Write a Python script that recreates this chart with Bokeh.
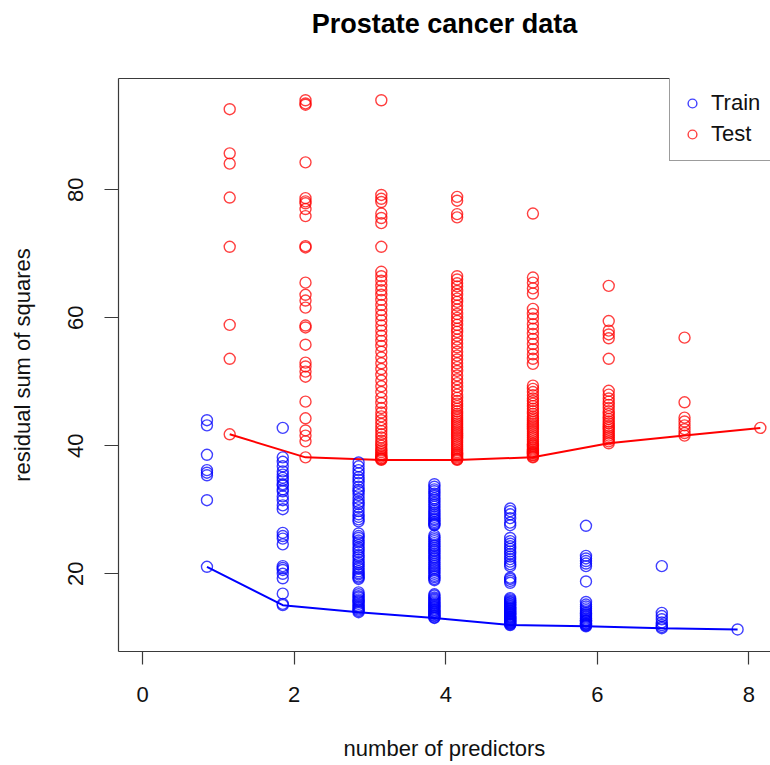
from bokeh.plotting import figure
from bokeh.models import Range1d, FixedTicker, Legend, LegendItem, LinearAxis
from bokeh.embed import file_html
from bokeh.resources import INLINE

# ---------------- data ----------------
subset_sizes = [1, 2, 3, 4, 5, 6, 7, 8]

train_1 = [44.0, 43.2, 38.6, 36.2, 35.8, 35.4, 31.5, 21.1]
train_2 = [42.8, 38.2, 37.5, 36.8, 36.0, 35.5, 35.0, 34.6, 34.0, 33.8, 33.2, 32.9, 32.1, 31.5,
           30.7, 30.1, 26.4, 25.9, 25.5, 24.6, 21.2, 20.9, 20.6, 20.0, 19.3, 16.9, 15.3, 15.1]
train_3 = [37.4, 36.8, 36.2, 35.7, 35.1, 34.7, 34.2, 33.6, 33.1, 32.8, 32.3, 31.7, 31.2, 30.9,
           30.4, 29.8, 29.3, 28.9, 28.5, 28.2,
           26.3, 25.9, 25.6, 25.2, 24.9, 24.5, 24.1, 23.8, 23.4, 22.9, 22.6, 22.2, 21.8, 21.5,
           21.1, 20.8, 20.4, 20.1, 19.9, 19.6, 19.4, 19.2,
           17.1, 16.8, 16.5, 16.3, 16.0, 15.8, 15.6, 15.3, 15.0, 14.8, 14.6, 14.4, 14.2, 14.0]
train_4 = [34.0, 33.6, 33.2, 32.9, 32.5, 32.2, 31.8, 31.5, 31.1, 30.8, 30.5, 30.1, 29.8, 29.5,
           29.2, 28.9, 28.6, 28.4, 28.1, 27.9, 27.7, 27.6,
           26.0, 25.7, 25.4, 25.1, 24.8, 24.5, 24.3, 24.0, 23.7, 23.5, 23.2, 22.9, 22.6, 22.4,
           22.1, 21.8, 21.5, 21.2, 20.9, 20.6, 20.3, 20.0, 19.7, 19.5, 19.2, 19.0,
           16.8, 16.6, 16.3, 16.1, 15.9, 15.7, 15.5, 15.3, 15.1, 14.9, 14.8, 14.6, 14.4, 14.3,
           14.1, 14.0, 13.8, 13.7, 13.5, 13.4, 13.2, 13.1]
train_5 = [30.2, 29.8, 29.3, 28.7, 28.0, 27.6,
           25.6, 25.1, 24.7, 24.3, 23.9, 23.5, 23.1, 22.7, 22.3, 21.9, 21.5, 21.2,
           19.4, 19.2, 18.9, 18.6,
           16.2, 16.0, 15.8, 15.6, 15.5, 15.3, 15.2, 15.0, 14.9, 14.7, 14.6, 14.5, 14.3, 14.2,
           14.1, 13.9, 13.8, 13.7, 13.6, 13.4, 13.3, 13.2, 13.1, 13.0, 12.9, 12.8, 12.7, 12.6,
           12.5, 12.4, 12.3, 12.2, 12.1, 12.0]
train_6 = [27.5, 22.8, 22.4, 22.0, 21.6, 21.2, 18.8,
           15.6, 15.2, 14.9, 14.6, 14.3, 14.0, 13.8, 13.6, 13.4, 13.2, 13.0, 12.8, 12.7, 12.6,
           12.5, 12.3, 12.2, 12.1, 12.0, 11.9, 11.8]
train_7 = [21.2, 13.9, 13.4, 12.9, 12.4, 12.0, 11.7, 11.5]
train_8 = [11.3]

test_1 = [92.6, 85.7, 84.1, 78.8, 71.1, 58.9, 53.6, 41.8]
test_2 = [94.0, 93.5, 93.3, 84.3, 78.7, 78.2, 77.9, 77.0, 75.9, 71.2, 71.0, 65.5, 63.6, 62.7,
          61.6, 58.8, 58.5, 55.8, 53.0, 52.4, 51.6, 50.8, 46.9, 44.3, 42.4, 41.6, 40.7, 38.2]
test_3 = [94.0, 79.2, 78.6, 78.1, 76.3, 75.6, 74.8, 71.1,
          67.2, 66.5, 65.8, 65.0, 64.3, 63.6, 62.8, 62.0, 61.2, 60.4, 59.6, 58.8, 58.0, 57.2,
          56.4, 55.6, 54.7, 53.8, 52.9, 52.0, 51.1, 50.2, 49.3, 48.4, 47.5, 46.7, 45.9, 45.2,
          44.6, 44.0, 43.4, 42.8, 42.3, 41.8, 41.3, 40.8, 40.4, 40.0, 39.6, 39.3, 39.0, 38.7,
          38.5, 38.3, 38.1, 38.0, 37.9, 37.8]
test_4 = [78.9, 78.3, 76.2, 75.7,
          66.5, 66.0, 65.4, 64.9, 64.2, 63.6, 63.0, 62.5, 61.9, 61.3, 60.6, 60.0, 59.5, 58.9,
          58.3, 57.8, 57.2, 56.6, 56.0, 55.4, 54.7, 54.1, 53.5, 52.9, 52.3, 51.7, 51.0, 50.4,
          49.8, 49.2, 48.6, 48.0, 47.5, 47.0, 46.6, 46.2, 45.8, 45.4, 45.0, 44.7, 44.4, 44.1,
          43.8, 43.5, 43.2, 42.9, 42.6, 42.3, 42.0, 41.7, 41.4, 41.1, 40.8, 40.5, 40.2, 39.9,
          39.6, 39.3, 39.0, 38.8, 38.6, 38.4, 38.2, 38.0, 37.9, 37.8]
test_5 = [76.3,
          66.3, 65.5, 64.6, 63.8,
          61.4, 60.6, 59.9, 59.0, 58.3, 57.5, 56.7, 55.9, 55.1, 54.3, 53.6, 52.8,
          49.4, 48.9, 48.4, 47.9, 47.4, 47.0, 46.6, 46.2, 45.8, 45.4, 45.0, 44.6, 44.3, 44.0,
          43.7, 43.4, 43.1, 42.8, 42.5, 42.2, 41.9, 41.6, 41.3, 41.0, 40.7, 40.4, 40.2, 40.0,
          39.8, 39.6, 39.4, 39.2, 39.0, 38.9, 38.8, 38.6, 38.5, 38.3, 38.2]
test_6 = [65.0, 59.5, 58.0, 57.4, 56.8, 53.6,
          48.6, 48.0, 47.4, 46.9, 46.4, 45.9, 45.4, 45.0, 44.6, 44.2, 43.8, 43.5, 43.1, 42.8,
          42.5, 42.2, 41.9, 41.6, 41.3, 41.0, 40.7, 40.4]
test_7 = [56.9, 46.8, 44.4, 43.8, 43.2, 42.6, 42.0, 41.6]
test_8 = [42.8]

x_ticks = [0, 2, 4, 6, 8]
y_ticks = [20, 40, 60, 80]
title_text = "Prostate cancer data"

train_groups = [train_1, train_2, train_3, train_4, train_5, train_6, train_7, train_8]
test_groups = [test_1, test_2, test_3, test_4, test_5, test_6, test_7, test_8]

# ---------------- styling ----------------
FONT = "Liberation Sans"
OFFSET = 0.15
BLUE = "#0000ff"
RED = "#ff0000"
AXIS_COL = "#3a3a3a"

tx, ty, sx, sy = [], [], [], []
for k, g in zip(subset_sizes, train_groups):
    tx += [k - OFFSET] * len(g)
    ty += g
for k, g in zip(subset_sizes, test_groups):
    sx += [k + OFFSET] * len(g)
    sy += g

train_line_x = [k - OFFSET for k in subset_sizes]
train_line_y = [min(g) for g in train_groups]
test_line_x = [k + OFFSET for k in subset_sizes]
test_line_y = [min(g) for g in test_groups]

p = figure(width=770, height=765, output_backend="svg", toolbar_location=None,
           x_range=Range1d(-0.317, 8.284), y_range=Range1d(7.86, 97.4),
           min_border_left=118, min_border_right=0, min_border_top=78, min_border_bottom=114)

p.background_fill_color = "white"
p.border_fill_color = "white"
p.outline_line_color = None
p.xgrid.visible = False
p.ygrid.visible = False

for ax in (p.xaxis[0], p.yaxis[0]):
    ax.axis_line_color = AXIS_COL
    ax.axis_line_width = 1.2
    ax.major_tick_line_color = AXIS_COL
    ax.major_tick_line_width = 1.2
    ax.major_tick_in = 0
    ax.minor_tick_line_color = None
    ax.major_label_text_font = FONT
    ax.major_label_text_font_size = "22px"
    ax.major_label_text_color = "#111111"
    ax.axis_label_text_font = FONT
    ax.axis_label_text_font_size = "22px"
    ax.axis_label_text_font_style = "normal"
    ax.axis_label_text_color = "#111111"

p.xaxis.ticker = FixedTicker(ticks=x_ticks)
p.yaxis.ticker = FixedTicker(ticks=y_ticks)
p.xaxis.axis_label = "number of predictors"
p.yaxis.axis_label = "residual sum of squares"
p.xaxis.major_tick_out = 13
p.yaxis.major_tick_out = 14
p.xaxis.major_label_standoff = 22
p.yaxis.major_label_standoff = 21
p.xaxis.axis_label_standoff = 31
p.yaxis.axis_label_standoff = 31
p.yaxis.major_label_orientation = "vertical"

# top border of the box, carrying the bold title as its label
top_axis = LinearAxis(ticker=FixedTicker(ticks=[]), axis_label=title_text,
                      axis_line_color=AXIS_COL, axis_line_width=1.2,
                      major_tick_line_color=None, minor_tick_line_color=None,
                      major_label_text_font_size="0px",
                      axis_label_text_font=FONT, axis_label_text_font_size="27px",
                      axis_label_text_font_style="bold", axis_label_text_color="black",
                      axis_label_standoff=40)
p.add_layout(top_axis, "above")

p.line(train_line_x, train_line_y, line_color=BLUE, line_width=2)
p.line(test_line_x, test_line_y, line_color=RED, line_width=2)

r_train = p.scatter(tx, ty, marker="circle", size=11, fill_color=None,
                    line_color=BLUE, line_alpha=0.75, line_width=1.4)
r_test = p.scatter(sx, sy, marker="circle", size=11, fill_color=None,
                   line_color=RED, line_alpha=0.75, line_width=1.4)

legend = Legend(items=[LegendItem(label="Train", renderers=[r_train]),
                       LegendItem(label="Test", renderers=[r_test])],
                location=(551, 490), margin=0, padding=11, spacing=1,
                glyph_width=22, glyph_height=30, label_height=30, label_standoff=8,
                label_text_font=FONT, label_text_font_size="22px", label_text_color="#111111",
                border_line_color=AXIS_COL, border_line_width=1.2,
                background_fill_color="white", background_fill_alpha=1.0)
p.add_layout(legend)

open("out.html", "w").write(file_html(p, INLINE))
